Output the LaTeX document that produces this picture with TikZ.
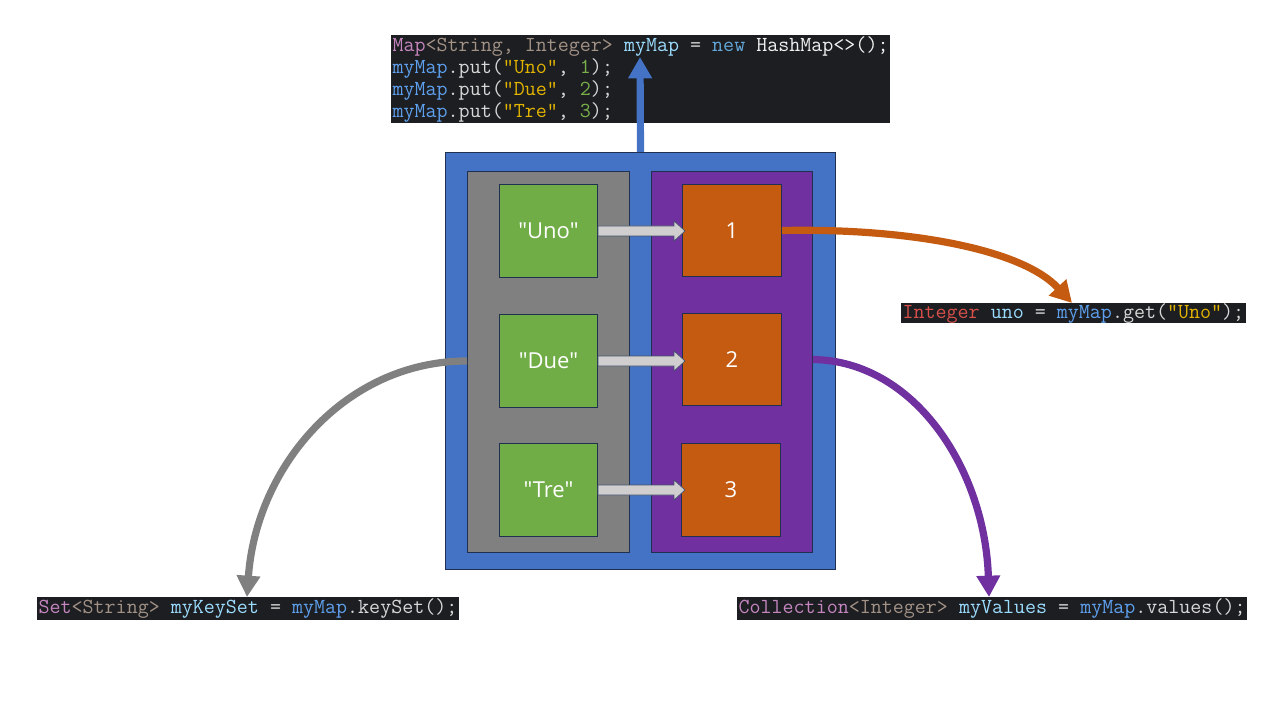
\documentclass[tikz,border=0pt]{standalone}
\usepackage{fontspec}
\usetikzlibrary{arrows.meta,calc}
\newfontfamily\boxfont{Open Sans}
\definecolor{codebg}{HTML}{1C1E21}
\definecolor{cType}{HTML}{C586C0}
\definecolor{cGen}{HTML}{A39286}
\definecolor{cVar}{HTML}{9CDCFE}
\definecolor{cRef}{HTML}{5FA0EE}
\definecolor{cDef}{HTML}{D8D8D8}
\definecolor{cNew}{HTML}{62A8DA}
\definecolor{cWhite}{HTML}{F0F0F0}
\definecolor{cStr}{HTML}{E2B400}
\definecolor{cNum}{HTML}{79B04A}
\definecolor{cRed}{HTML}{D9504A}
\definecolor{mapblue}{HTML}{4472C4}
\definecolor{keygray}{HTML}{808080}
\definecolor{valpurple}{HTML}{7030A0}
\definecolor{keygreen}{HTML}{70AD47}
\definecolor{valorange}{HTML}{C55A11}
\definecolor{edgenavy}{HTML}{1F3050}
\definecolor{blockfill}{HTML}{D0CECE}
\definecolor{blockedge}{HTML}{44546A}
\newcommand\kT[1]{\textcolor{cType}{#1}}
\newcommand\kG[1]{\textcolor{cGen}{#1}}
\newcommand\kV[1]{\textcolor{cVar}{#1}}
\newcommand\kR[1]{\textcolor{cRef}{#1}}
\newcommand\kD[1]{\textcolor{cDef}{#1}}
\newcommand\kN[1]{\textcolor{cNew}{#1}}
\newcommand\kW[1]{\textcolor{cWhite}{#1}}
\newcommand\kS[1]{\textcolor{cStr}{#1}}
\newcommand\kU[1]{\textcolor{cNum}{#1}}
\newcommand\kX[1]{\textcolor{cRed}{#1}}
\tikzset{
  codebox/.style={fill=codebg, anchor=north west, inner xsep=1pt, inner ysep=0pt,
    font=\ttfamily\fontsize{16.05pt}{16.5pt}\selectfont, align=left, text=cDef},
  panel/.style={draw=edgenavy, line width=0.75pt, anchor=north west, inner sep=0pt},
  keybox/.style={panel, fill=keygreen, minimum width=73.5pt, minimum height=69.75pt,
    text=white, font=\boxfont\fontsize{16.5pt}{19pt}\selectfont},
  valbox/.style={panel, fill=valorange, minimum width=74.25pt, minimum height=69pt,
    text=white, font=\boxfont\fontsize{16.5pt}{19pt}\selectfont},
  blockarrow/.style={draw=blockedge, fill=blockfill, line width=0.5pt, line join=miter},
  flow/.style={line width=5.4pt, -{Triangle[width=17pt,length=16pt]}}
}
\begin{document}
\begin{tikzpicture}[x=0.75pt,y=-0.75pt]
\useasboundingbox (0,0) rectangle (1280,720);
% code blocks
\node[codebox, minimum height=66pt, minimum width=373.5pt] (top) at (391,35)
 {\kT{Map}\kG{<String, Integer>} \kV{myMap} \kD{=} \kN{new} \kW{HashMap<>();}\\
  \kR{myMap}\kD{.put(}\kS{"Uno"}\kD{, }\kU{1}\kD{);}\\
  \kR{myMap}\kD{.put(}\kS{"Due"}\kD{, }\kU{2}\kD{);}\\
  \kR{myMap}\kD{.put(}\kS{"Tre"}\kD{, }\kU{3}\kD{);}};
\node[codebox, minimum height=15pt, minimum width=256.5pt] (gcode) at (901,303)
 {\kX{Integer} \kV{uno} \kD{=} \kR{myMap}\kD{.get(}\kS{"Uno"}\kD{);}};
\node[codebox, minimum height=17pt, minimum width=315pt] (kcode) at (37,597)
 {\kT{Set}\kG{<String>} \kV{myKeySet} \kD{=} \kR{myMap}\kD{.keySet();}};
\node[codebox, minimum height=17pt, minimum width=380.25pt] (vcode) at (737,597)
 {\kT{Collection}\kG{<Integer>} \kV{myValues} \kD{=} \kR{myMap}\kD{.values();}};
% map panels
\node[panel, fill=mapblue, minimum width=292.5pt, minimum height=312.75pt] (outer) at (445,152) {};
\node[panel, fill=keygray, minimum width=121.5pt, minimum height=285.75pt] (gray) at (467,171) {};
\node[panel, fill=valpurple, minimum width=120.75pt, minimum height=285.75pt] (purple) at (651,171) {};
% keys
\node[keybox] (u) at (499,184) {"Uno"};
\node[keybox] (d) at (499,314) {"Due"};
\node[keybox] (t) at (499,443) {"Tre"};
% values
\node[valbox] (o1) at (682,184) {1};
\node[valbox] (o2) at (682,313) {2};
\node[valbox, minimum height=69.75pt] (o3) at (681,443) {3};
% key -> value block arrows
\foreach \k in {u,d,t}{
  \draw[blockarrow] (\k.east) ++(0,-5) -- ++(76,0) -- ++(0,-5) -- ++(11,10)
    -- ++(-11,10) -- ++(0,-5) -- ++(-76,0) -- cycle;
}
% flows
\draw[flow, draw=mapblue] (outer.north) -- ($(top.north west)+(249,22)$);
\draw[flow, draw=valorange] (o1.east) .. controls (900,228) and (1020,247) .. ($(gcode.north west)+(171,0)$);
\draw[flow, draw=keygray] (d.west -| gray.west) .. controls (345,361) and (256,467) .. ($(kcode.north west)+(210,0)$);
\draw[flow, draw=valpurple] (o2.east -| purple.east) .. controls (915,361) and (985,470) .. ($(vcode.north west)+(252,0)$);
\end{tikzpicture}
\end{document}
